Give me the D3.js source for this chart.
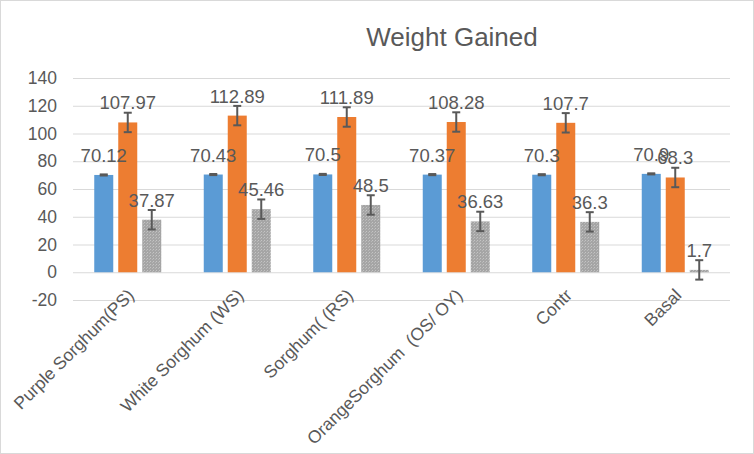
<!DOCTYPE html>
<html>
<head>
<meta charset="utf-8">
<script src="https://cdn.jsdelivr.net/npm/d3@7"></script>
<style>
  body { margin: 0; background: #fff; }
  svg text { font-family: "Liberation Sans", Arial, sans-serif; fill: #595959; }
</style>
</head>
<body>
<div id="chart"></div>
<script>
const categories = ['Purple Sorghum(PS)', 'White Sorghum (WS)', 'Sorghum( (RS)', 'OrangeSorghum\u00a0 (OS/ OY)', 'Contr', 'Basal'];
const seriesNames = ['s1', 's2', 's3'];
const blueValues = [70.12, 70.43, 70.5, 70.37, 70.3, 70.9];
const orangeValues = [107.97, 112.89, 111.89, 108.28, 107.7, 68.3];
const grayValues = [37.87, 45.46, 48.5, 36.63, 36.3, 1.7];
const blueErr = [0.4, 0.4, 0.4, 0.4, 0.4, 0.4];
const orangeErr = [7, 7, 7, 7, 7, 7];
const grayErr = [7, 7, 7, 7, 7, 7];
const yTicks = [-20, 0, 20, 40, 60, 80, 100, 120, 140];
const title = 'Weight Gained';

const width = 754, height = 454;
const colors = {s1: '#5b9bd5', s2: '#ed7d31', s3: 'url(#grayDots)'};
const valueSets = {s1: blueValues, s2: orangeValues, s3: grayValues};
const errSets = {s1: blueErr, s2: orangeErr, s3: grayErr};

const svg = d3.select('#chart').append('svg')
    .attr('width', width)
    .attr('height', height);

// dotted fill like the excel pattern
const pat = svg.append('defs').append('pattern')
    .attr('id', 'grayDots')
    .attr('patternUnits', 'userSpaceOnUse')
    .attr('width', 3).attr('height', 3);
pat.append('rect').attr('width', 3).attr('height', 3).attr('fill', '#a5a5a5');
pat.append('rect').attr('x', 0).attr('y', 0).attr('width', 1).attr('height', 1).attr('fill', '#c4c4c4');
pat.append('rect').attr('x', 2).attr('y', 1).attr('width', 1).attr('height', 1).attr('fill', '#b8b8b8');

svg.append('rect')
    .attr('x', 0.5).attr('y', 0.5)
    .attr('width', width - 1).attr('height', height - 1)
    .attr('fill', '#fff')
    .attr('stroke', '#d9d9d9');

const x0 = d3.scaleBand()
    .domain(categories)
    .range([73, 730])
    .padding(0);

const x1 = d3.scaleBand()
    .domain(seriesNames)
    .range([0, 67])
    .paddingInner(0.208);

const y = d3.scaleLinear()
    .domain([-20, 140])
    .range([300, 78]);

// gridlines
svg.append('g')
    .attr('transform', 'translate(73,0)')
    .call(d3.axisLeft(y).tickValues(yTicks).tickFormat('').tickSize(-657))
    .call(g => g.select('.domain').remove())
    .call(g => g.selectAll('line').attr('stroke', '#d9d9d9').attr('stroke-width', 1));

// y labels, plain hyphen for the minus like excel
svg.append('g')
    .attr('transform', 'translate(73,0)')
    .call(d3.axisLeft(y).tickValues(yTicks).tickFormat(d => String(d)).tickSize(0).tickPadding(16))
    .call(g => g.select('.domain').remove())
    .call(g => g.selectAll('text').attr('font-size', 17.5).attr('fill', '#595959'));

const offset = x0.bandwidth() / 2 - 33.5;

const groups = svg.append('g');

seriesNames.forEach(s => {
    const vals = valueSets[s];
    const errs = errSets[s];
    const bx = (d, i) => x0(categories[i]) + offset + x1(s);

    groups.selectAll('.bar-' + s)
        .data(vals)
        .join('rect')
        .attr('x', bx)
        .attr('y', d => y(Math.max(d, 0)))
        .attr('width', x1.bandwidth())
        .attr('height', d => Math.abs(y(d) - y(0)))
        .attr('fill', colors[s]);

    const eg = groups.append('g').attr('stroke', '#595959').attr('stroke-width', 2);
    vals.forEach((d, i) => {
        const cx = bx(d, i) + x1.bandwidth() / 2;
        const top = y(d + errs[i]), bot = y(d - errs[i]);
        eg.append('line').attr('x1', cx).attr('x2', cx).attr('y1', top).attr('y2', bot);
        eg.append('line').attr('x1', cx - 4).attr('x2', cx + 4).attr('y1', top).attr('y2', top);
        eg.append('line').attr('x1', cx - 4).attr('x2', cx + 4).attr('y1', bot).attr('y2', bot);
    });
});

// data labels (blue first so orange overlaps like the original)
seriesNames.forEach(s => {
    const vals = valueSets[s];
    groups.selectAll('.lab-' + s)
        .data(vals)
        .join('text')
        .attr('x', (d, i) => x0(categories[i]) + offset + x1(s) + x1.bandwidth() / 2)
        .attr('y', d => y(d) - 13)
        .attr('text-anchor', 'middle')
        .attr('font-size', 18.5)
        .text(d => d);
});

// category labels
svg.append('g')
    .selectAll('text')
    .data(categories)
    .join('text')
    .attr('transform', d => `translate(${x0(d) + x0.bandwidth() / 2 + 3},${292}) rotate(-45)`)
    .attr('text-anchor', 'end')
    .attr('dy', '0.35em')
    .attr('font-size', 17.5)
    .text(d => d);

svg.append('text')
    .attr('x', 452)
    .attr('y', 46)
    .attr('text-anchor', 'middle')
    .attr('font-size', 26)
    .text(title);
</script>
</body>
</html>
